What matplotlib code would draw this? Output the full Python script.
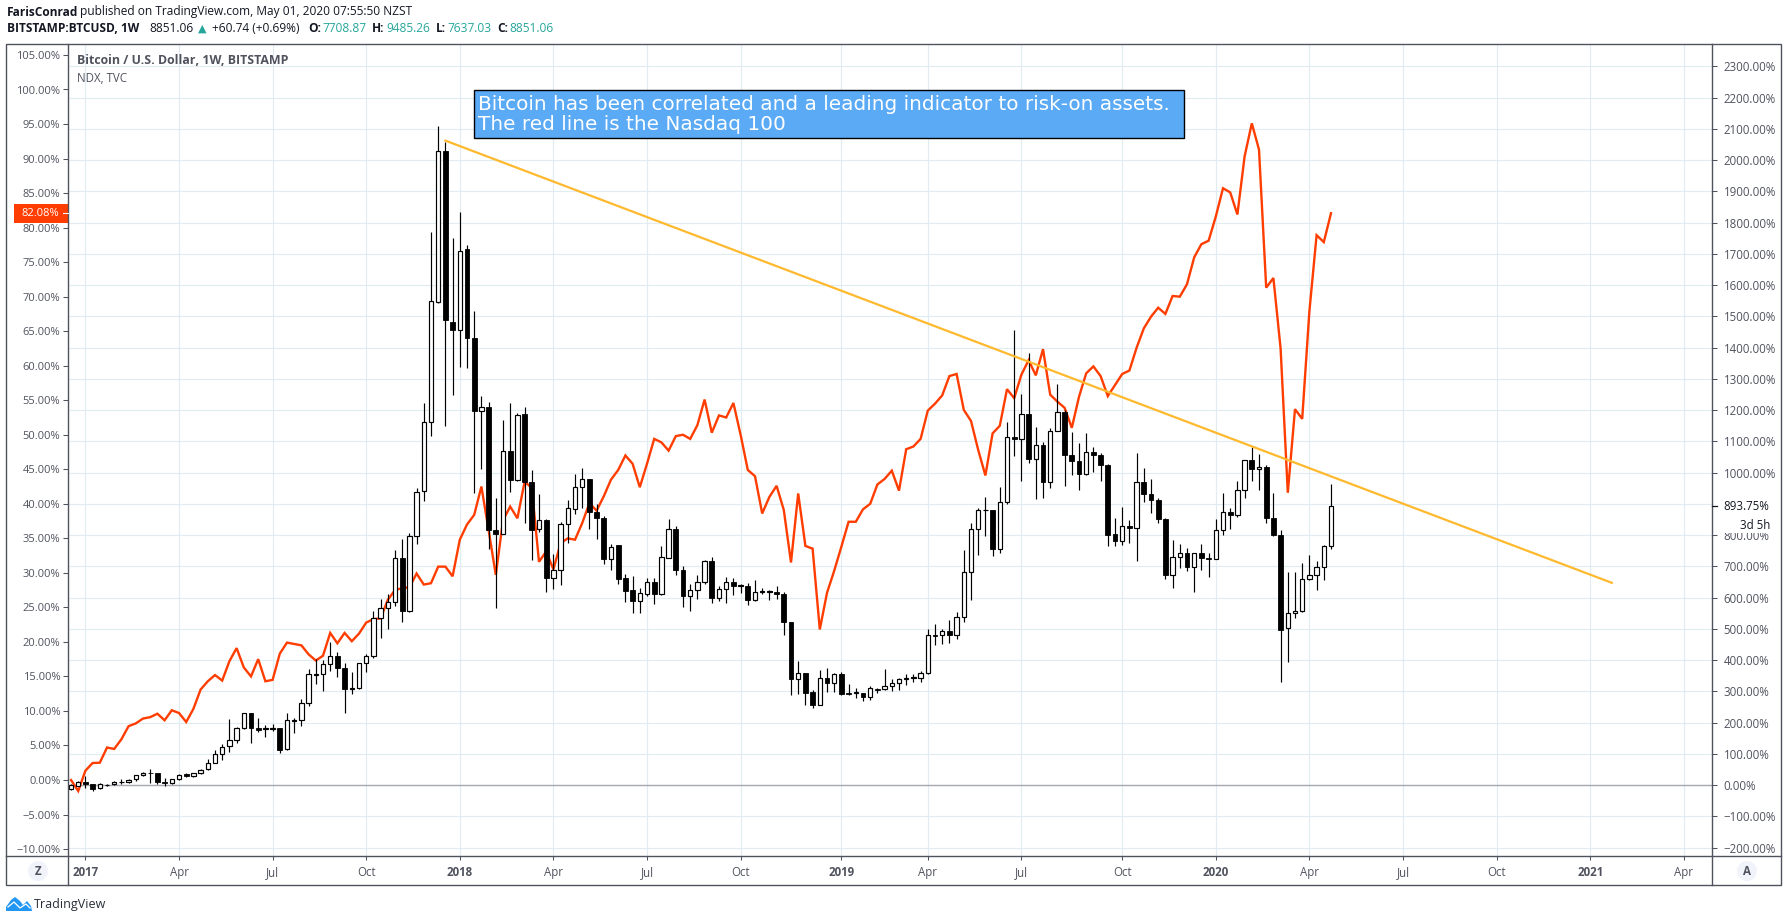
import matplotlib
matplotlib.use("Agg")
import matplotlib.pyplot as plt
import numpy as np
import pandas as pd
from matplotlib.patches import Rectangle, Circle, Polygon

# BTCUSD weekly candles, % change from first close (right scale)
btc_open = [-14,-2,11,2,-10,0,2,10,11,18,
            31,40,37,11,5,18,34,28,37,50,
            72,98,124,143,181,229,181,180,180,181,
            114,206,207,261,353,354,386,414,373,307,
            309,389,414,536,568,587,727,558,798,941,
            1162,1547,2028,1481,1455,1715,1429,1196,1211,817,
            804,1069,977,1187,969,820,849,663,689,836,
            884,953,980,875,855,723,767,662,624,590,
            612,651,612,727,820,689,606,625,651,718,
            600,628,651,637,638,592,619,619,619,612,
            523,340,360,297,257,341,327,355,296,295,
            296,282,308,306,318,325,338,343,344,357,
            481,479,494,479,539,683,820,879,881,755,
            905,1114,1107,1187,1044,1088,969,1133,1194,1056,
            1037,995,1066,1056,1025,804,781,830,823,970,
            932,913,852,672,731,743,698,743,727,723,
            817,874,864,945,1040,1012,1018,855,801,501,
            551,558,659,673,699,765]
btc_high = [3,13,29,4,5,3,13,18,19,33,
            43,51,40,24,20,34,37,40,51,82,
            111,130,211,187,232,232,213,192,194,181,
            229,216,274,371,402,399,459,425,390,361,
            389,419,556,594,610,751,786,808,951,1223,
            1770,2109,2059,1751,1834,1727,1517,1246,1225,919,
            1168,1223,1191,1211,1009,932,852,740,841,913,
            994,1015,980,898,860,772,769,676,669,630,
            663,663,764,852,830,702,644,673,721,730,
            638,665,661,644,648,657,629,625,636,617,
            523,396,360,304,367,374,359,361,323,310,
            296,316,310,371,339,344,355,355,364,498,
            515,500,529,555,751,839,887,921,881,955,
            1163,1456,1252,1382,1147,1098,1143,1283,1200,1131,
            1096,1128,1083,1064,1028,856,891,847,1061,1016,
            978,920,855,783,772,760,743,770,742,850,
            933,888,974,1040,1081,1058,1025,935,817,683,
            683,712,737,718,769,964]
btc_low = [-16,-2,-11,-19,-12,-2,0,2,7,14,
           29,7,4,-2,4,16,27,26,36,49,
           71,81,107,136,180,135,170,154,174,103,
           113,167,190,253,324,301,365,346,231,292,
           308,362,407,471,499,573,522,554,770,908,
           1116,1544,1150,1249,1337,1333,934,1011,755,565,
           804,937,974,838,721,809,618,628,641,774,
           868,887,820,787,708,687,644,586,550,550,
           604,578,608,727,672,570,557,595,642,583,
           589,583,608,615,576,590,610,591,596,480,
           288,291,257,247,255,298,299,289,289,278,
           268,272,295,305,302,305,320,330,329,354,
           448,451,456,468,521,591,735,796,733,742,
           899,1054,974,1029,914,920,949,1133,958,992,
           943,992,1003,974,764,764,767,773,717,905,
           869,837,659,630,693,685,618,687,666,723,
           800,818,857,917,974,943,840,797,330,394,
           536,554,657,624,655,755]
btc_close = [-1,11,2,-12,2,1,11,11,17,31,
             40,37,11,5,18,33,28,37,49,72,
             98,122,143,181,229,181,176,182,182,113,
             207,208,261,354,355,386,414,373,308,309,
             389,414,536,568,587,727,558,798,938,1162,
             1549,2028,1487,1455,1708,1429,1196,1209,817,803,
             1069,977,1184,969,817,849,663,689,836,887,
             953,979,873,854,723,761,659,622,590,613,
             651,611,730,820,689,605,625,651,718,599,
             628,651,637,639,592,619,621,621,611,522,
             340,360,295,257,341,327,355,291,292,297,
             282,309,305,318,325,338,344,345,360,481,
             478,494,479,539,683,820,881,881,755,906,
             1114,1107,1187,1043,1088,969,1133,1194,1055,1036,
             995,1066,1055,1023,800,781,830,822,970,931,
             912,851,672,731,743,698,743,726,724,817,
             874,864,945,1040,1011,1018,853,799,496,552,
             558,660,672,699,764,894]

# NDX weekly, % change (left scale)
ndx = [0,-1.6,1.35,2.46,2.5,4.7,4.5,5.9,7.8,8.2,
       8.9,9.1,9.6,8.65,10.1,9.7,8.4,10.3,13.1,14.3,
       15.2,14.4,17.2,19.1,16.3,15.0,17.5,14.3,14.5,18.3,
       19.9,19.7,19.5,18.2,17.3,18.0,21.3,19.8,21.3,20.1,
       21.2,22.8,23.3,23.4,26.1,27.5,27.8,27.9,29.9,28.3,
       28.5,30.9,30.9,29.5,34.8,37.0,38.4,42.5,36.2,29.7,
       37.6,39.6,37.9,43.2,42.3,31.6,33.1,30.5,34.3,35.0,
       34.8,37.2,40.1,39.0,41.1,43.5,44.9,47.0,45.8,42.4,
       45.8,49.4,48.9,47.7,49.8,50.0,49.4,51.4,55.1,50.3,
       52.8,52.5,54.6,50.0,44.9,44.0,38.6,41.0,42.6,39.1,
       31.5,41.5,33.9,33.5,21.8,27.1,30.3,33.8,37.4,37.4,
       39.2,40.0,42.8,43.6,44.8,41.9,47.9,48.3,49.4,53.5,
       54.5,55.7,58.5,58.8,53.6,52.0,47.8,44.1,50.2,51.3,
       56.6,55.3,58.7,60.8,58.6,62.4,55.8,54.8,53.9,51.0,
       55.5,58.9,59.9,58.5,55.6,57.2,58.8,59.3,62.6,65.4,
       67.1,68.4,67.5,70.1,70.0,71.8,75.7,77.6,78.1,81.6,
       85.7,85.1,81.9,90.3,95.1,91.3,71.3,72.7,62.5,41.6,
       53.7,52.3,67.9,78.9,77.9,82.08]

# trend line end points (week index, right scale %)
trend_x = [52, 214]
trend_y = [2062, 647]

left_ticks = [105,100,95,90,85,80,75,70,65,60,55,50,45,40,35,30,25,20,15,10,5,0,-5,-10]
right_ticks = list(range(2300, -300, -100))
quarter_starts = ["2017-01-01","2017-04-01","2017-07-01","2017-10-01",
                  "2018-01-01","2018-04-01","2018-07-01","2018-10-01",
                  "2019-01-01","2019-04-01","2019-07-01","2019-10-01",
                  "2020-01-01","2020-04-01","2020-07-01","2020-10-01",
                  "2021-01-01","2021-04-01"]
quarter_labels = ["2017","Apr","Jul","Oct","2018","Apr","Jul","Oct","2019","Apr","Jul","Oct",
                  "2020","Apr","Jul","Oct","2021","Apr"]

UI_FONT = "Open Sans"
TXT = "#50535e"
GRID = "#e1ecf2"
RED = "#ff3d00"
GOLD = "#ffb92e"
TEAL = "#26a69a"

W, H = 1787, 922
L, R, T, B = 68, 1712, 44, 856

fig = plt.figure(figsize=(W / 100, H / 100), dpi=100, facecolor="white")
rect = [L / W, 1 - B / H, (R - L) / W, (B - T) / H]

xlim = ((L - 71) / 7.2, (R - 71) / 7.2)
btc_ylim = ((785 - B) * 3.2, (785 - T) * 3.2)
ndx_ylim = ((780 - B) / 6.905, (780 - T) / 6.905)

weeks = pd.date_range("2016-12-19", periods=235, freq="W-MON")
tick_idx = [int(np.argmax(weeks >= pd.Timestamp(q))) for q in quarter_starts]
x = np.arange(len(btc_close))

# grid sits under everything
ax_grid = fig.add_axes(rect, zorder=1)
ax_grid.set_xlim(*xlim)
ax_grid.set_ylim(*btc_ylim)
ax_grid.set_xticks(tick_idx)
ax_grid.set_xticklabels(quarter_labels, fontfamily=UI_FONT, fontsize=8.3, color=TXT)
for lab, txt in zip(ax_grid.get_xticklabels(), quarter_labels):
    if txt.isdigit():
        lab.set_fontweight("bold")
ax_grid.set_yticks(right_ticks)
ax_grid.tick_params(axis="y", length=0, labelleft=False)
ax_grid.tick_params(axis="x", length=3, width=0.75, color=TXT, pad=4.5)
ax_grid.grid(True, color=GRID, linewidth=0.85)
ax_grid.set_axisbelow(True)
for s in ax_grid.spines.values():
    s.set_visible(False)
ax_grid.axhline(0, color="#a8a9ae", linewidth=1.0, zorder=1.5)

# NDX on the left scale
ax_ndx = fig.add_axes(rect, zorder=2)
ax_ndx.patch.set_visible(False)
ax_ndx.set_xlim(*xlim)
ax_ndx.set_ylim(*ndx_ylim)
ax_ndx.plot(x, ndx, color=RED, linewidth=1.7, solid_joinstyle="miter")
ax_ndx.set_xticks([])
ax_ndx.set_yticks(left_ticks)
ax_ndx.set_yticklabels([f"{v:.2f}%".replace("-", "\u2212") for v in left_ticks],
                       fontfamily=UI_FONT, fontsize=8.0, color=TXT)
ax_ndx.tick_params(axis="y", length=3.5, width=0.75, color=TXT, pad=2)
for s in ax_ndx.spines.values():
    s.set_visible(False)

# BTC candles on the right scale
ax_btc = fig.add_axes(rect, zorder=3)
ax_btc.patch.set_visible(False)
ax_btc.set_xlim(*xlim)
ax_btc.set_ylim(*btc_ylim)
o = np.array(btc_open)
c = np.array(btc_close)
up = c >= o
ax_btc.vlines(x, btc_low, btc_high, color="black", linewidth=0.85, zorder=2)
ax_btc.bar(x[up], (c - o)[up], bottom=o[up], width=0.6, facecolor="white",
           edgecolor="black", linewidth=0.85, zorder=3)
ax_btc.bar(x[~up], (o - c)[~up], bottom=c[~up], width=0.68, facecolor="black",
           edgecolor="black", linewidth=0.6, zorder=3)
ax_btc.plot(trend_x, trend_y, color=GOLD, linewidth=1.6, zorder=4)
ax_btc.set_xticks([])
ax_btc.yaxis.tick_right()
ax_btc.set_yticks(right_ticks)
ax_btc.set_yticklabels([f"{v:.2f}%".replace("-", "\u2212") for v in right_ticks],
                       fontfamily=UI_FONT, fontsize=8.3, color=TXT)
ax_btc.tick_params(axis="y", length=3.5, width=0.75, color=TXT, pad=5)
for s in ax_btc.spines.values():
    s.set_visible(False)

# page furniture, in pixels of the picture
ov = fig.add_axes([0, 0, 1, 1], zorder=10)
ov.set_xlim(0, W)
ov.set_ylim(H, 0)
ov.axis("off")

def put(px, py, s, **kw):
    kw.setdefault("fontfamily", UI_FONT)
    kw.setdefault("fontsize", 8.6)
    kw.setdefault("color", "#131722")
    kw.setdefault("va", "center")
    ov.text(px, py, s, **kw)

ov.add_patch(Rectangle((6, T), 1781 - 6, 885 - T, fill=False, edgecolor=TXT, linewidth=1.0))
ov.plot([L, L], [T, 885], color=TXT, linewidth=1.0)
ov.plot([R, R], [T, 885], color=TXT, linewidth=1.0)
ov.plot([6, 1781], [B, B], color=TXT, linewidth=1.0)

put(7, 12, "FarisConrad", fontweight="bold")
put(80, 12, "published on TradingView.com, May 01, 2020 07:55:50 NZST")
put(7, 29, "BITSTAMP:BTCUSD, 1W", fontweight="bold")
put(149, 29, "8851.06")
put(198, 29, "\u25b2", color=TEAL, fontfamily="DejaVu Sans", fontsize=8)
put(212, 29, "+60.74 (+0.69%)")
for lx, lab, vx, val in [(308, "O:", 322, "7708.87"), (372, "H:", 386, "9485.26"),
                         (436, "L:", 447, "7637.03"), (497, "C:", 509, "8851.06")]:
    put(lx, 29, lab, fontweight="bold")
    put(vx, 29, val, color=TEAL)

put(77, 61, "Bitcoin / U.S. Dollar, 1W, BITSTAMP", color=TXT, fontweight="bold", fontsize=8.9)
put(77, 78, "NDX, TVC", color=TXT, fontsize=8.3)

# annotation box
ov.add_patch(Rectangle((474, 90), 710, 48, facecolor="#5aaaf5", edgecolor="black", linewidth=1.0))
put(478, 104, "Bitcoin has been correlated and a leading indicator to risk-on assets.",
    color="white", fontfamily="DejaVu Sans", fontsize=14.45)
put(478, 125, "The red line is the Nasdaq 100", color="white",
    fontfamily="DejaVu Sans", fontsize=14.45)

# last value tags
ov.add_patch(Rectangle((14, 204), 54, 19, facecolor=RED, edgecolor="none"))
ov.plot([63, 68], [213, 213], color="white", linewidth=0.8)
put(59, 213, "82.08%", color="white", ha="right", fontsize=8.0)
ov.add_patch(Rectangle((R - 0.5, 495), 66, 20, facecolor="white", edgecolor="none"))
ov.add_patch(Rectangle((R + 1, 515), 64, 18, facecolor="white", edgecolor="none"))
ov.plot([R, R + 5], [506, 506], color="#131722", linewidth=0.9)
put(1723, 506, "893.75%", color="#131722", fontsize=8.3)
put(1770, 525, "3d 5h", color="#131722", fontsize=8.3, ha="right")

# scale buttons
for cx, s in [(38, "Z"), (1747, "A")]:
    ov.add_patch(Circle((cx, 871), 10, facecolor="#f0f3fa", edgecolor="none"))
    put(cx, 871, s, color=TXT, ha="center", fontweight="bold", fontsize=8.3)

# logo
logo_blue = "#2196f3"
ov.add_patch(Polygon([(6, 907), (11, 900), (15, 897), (20, 901), (23, 905), (27, 901),
                      (31, 906), (32, 911), (6, 911)], closed=True,
                     facecolor=logo_blue, edgecolor="none"))
ov.plot([8, 14, 20, 26, 30], [907, 902, 908, 904, 908], color="white", linewidth=0.9)
put(34, 904, "TradingView", color="#2a2e39", fontsize=9.0)

fig.savefig("out.png", dpi=100)
